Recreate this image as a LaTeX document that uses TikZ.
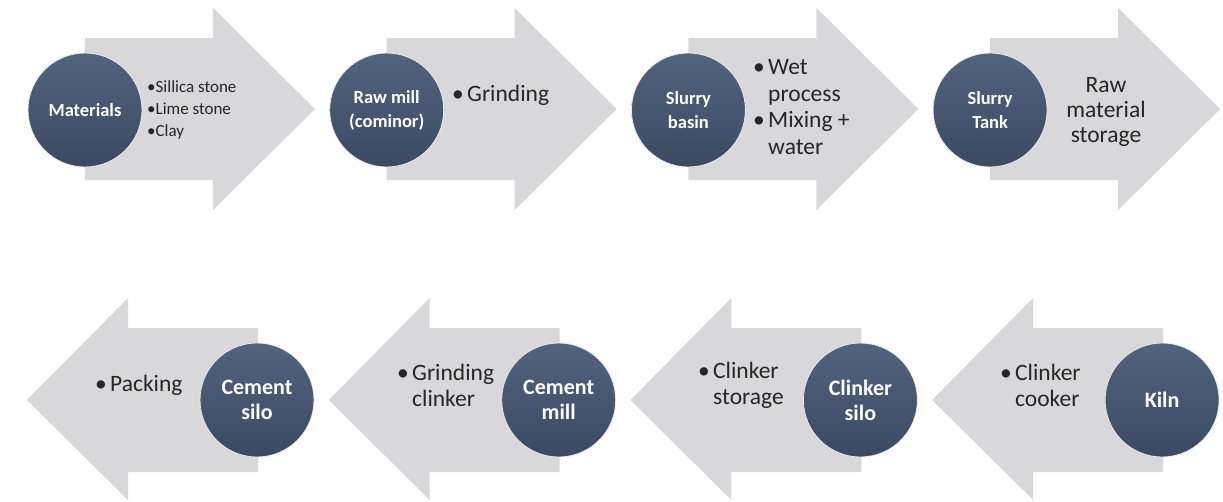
\documentclass[tikz,border=0pt]{standalone}
\usepackage{fontspec}
\setmainfont{Carlito}
\definecolor{arrowgray}{HTML}{D8D8DA}
\definecolor{circtop}{HTML}{52637F}
\definecolor{circbot}{HTML}{3B4A62}
\definecolor{txtcol}{HTML}{262626}
\newcommand{\bul}{\makebox[15pt][l]{•}}
\newcommand{\ind}{\hspace*{15pt}}
\begin{document}
\begin{tikzpicture}[x=1pt,y=-1pt,
  arrowshape/.style={fill=arrowgray},
  station/.style={circle, minimum size=114pt, inner sep=0pt, top color=circtop, bottom color=circbot, draw=white!85!gray, line width=0.8pt, text=white, align=center},
  topst/.style={station, font=\bfseries\fontsize{18.5}{24}\selectfont},
  botst/.style={station, font=\bfseries\fontsize{22}{25}\selectfont},
  lbl/.style={inner sep=0pt, text=txtcol, align=left},
  biglbl/.style={lbl, font=\fontsize{23.5}{26}\selectfont}]
\useasboundingbox (0,0) rectangle (1223,501);
% top row arrows (pointing right)
\foreach \i in {0,...,3}{
  \pgfmathsetmacro{\dx}{301.7*\i}
  \fill[arrowshape] (85+\dx,38) -- (213+\dx,38) -- (213+\dx,8) -- (315+\dx,109)
     -- (213+\dx,210) -- (213+\dx,180) -- (85+\dx,180) -- cycle;
}
% bottom row arrows (pointing left)
\foreach \i in {0,...,3}{
  \pgfmathsetmacro{\dx}{301.7*\i}
  \fill[arrowshape] (27+\dx,400) -- (128+\dx,298) -- (128+\dx,328) -- (258+\dx,328)
     -- (258+\dx,472) -- (128+\dx,472) -- (128+\dx,500) -- cycle;
}
% top row stations
\node[topst] (materials) at (85,110) {Materials};
\node[topst] (rawmill) at (386.7,110) {Raw mill\\(cominor)};
\node[topst] (slurrybasin) at (688.4,110) {Slurry\\basin};
\node[topst] (slurrytank) at (990.1,110) {Slurry\\Tank};
% top row texts
\node[lbl, anchor=west, font=\fontsize{17}{22}\selectfont] (t1) at (147,110) {•Sillica stone\\•Lime stone\\•Clay};
\node[biglbl, anchor=west] (t2) at (452,95) {\bul Grinding};
\node[biglbl, anchor=west, font=\fontsize{23.5}{26.5}\selectfont] (t3) at (753,107) {\bul Wet\\\ind process\\\bul Mixing +\\\ind water};
\node[biglbl, align=center, font=\fontsize{23.5}{25}\selectfont] (t4) at (1106,112) {Raw\\material\\storage};
% bottom row stations
\node[botst] (cementsilo) at (257,400) {Cement\\silo};
\node[botst] (cementmill) at (558.7,400) {Cement\\mill};
\node[botst] (clinkersilo) at (860.4,400) {Clinker\\silo};
\node[botst] (kiln) at (1162.1,400) {Kiln};
% bottom row texts
\node[biglbl, anchor=west] (b1) at (95,385) {\bul Packing};
\node[biglbl, anchor=west] (b2) at (397,385) {\bul Grinding\\\ind clinker};
\node[biglbl, anchor=west] (b3) at (698,385) {\bul Clinker\\\ind storage};
\node[biglbl, anchor=west] (b4) at (1000,385) {\bul Clinker\\\ind cooker};
\end{tikzpicture}
\end{document}
